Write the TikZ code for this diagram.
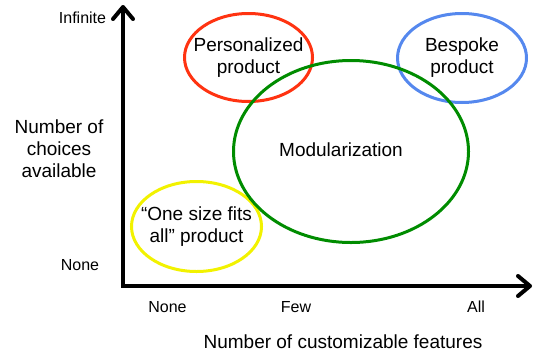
\documentclass[tikz,border=0pt]{standalone}
\usepackage{fontspec}
\setmainfont{Liberation Sans}
\usetikzlibrary{shapes.geometric,arrows.meta}
\definecolor{cred}{HTML}{FF3311}
\definecolor{cgreen}{HTML}{008C00}
\definecolor{cblue}{HTML}{5588EE}
\definecolor{cyellow}{HTML}{F2F200}
\begin{document}
\begin{tikzpicture}[x=1pt,y=-1pt,
  axis/.style={line width=4pt,line join=miter,
    {Straight Barb[length=12pt,width=20pt,round]}-{Straight Barb[length=12pt,width=20pt,round]}},
  blob/.style={ellipse,draw,line width=3pt,inner sep=0pt},
  lab/.style={font=\fontsize{16}{19}\selectfont},
  title/.style={font=\fontsize{19}{22}\selectfont,align=center}]
\useasboundingbox (0,0) rectangle (534,356);
\coordinate (O) at (123,286);
\coordinate (ytop) at (123,5);
\coordinate (xend) at (532,286);
\draw[axis] (ytop) -- (O) -- (xend);
\node[blob,draw=cred,minimum width=128pt,minimum height=88pt] (pers) at (248.5,57.5) {};
\node[blob,draw=cblue,minimum width=129pt,minimum height=89pt] (besp) at (462,58) {};
\node[blob,draw=cyellow,minimum width=130pt,minimum height=90pt] (one) at (196.5,226.5) {};
\node[blob,draw=cgreen,minimum width=235pt,minimum height=182pt] (mod) at (351,151.5) {};
\node[title] (persl) at (pers.center) {Personalized\\product};
\node[title] (bespl) at (besp.center) {Bespoke\\product};
\node[title] (onel) at (one.center) {“One size fits\\all” product};
\node[title] (modl) at (341,150) {Modularization};
\node[lab] (inf) at (82.5,17.5) {Infinite};
\node[lab] (ynone) at (80,265) {None};
\node[title] (ylab) at (59,149) {Number of\\choices\\available};
\node[lab] (xnone) at (167.5,306.7) {None};
\node[lab] (few) at (296,306.7) {Few};
\node[lab] (all) at (476,306.7) {All};
\node[title] (xlab) at (343,342) {Number of customizable features};
\end{tikzpicture}
\end{document}
